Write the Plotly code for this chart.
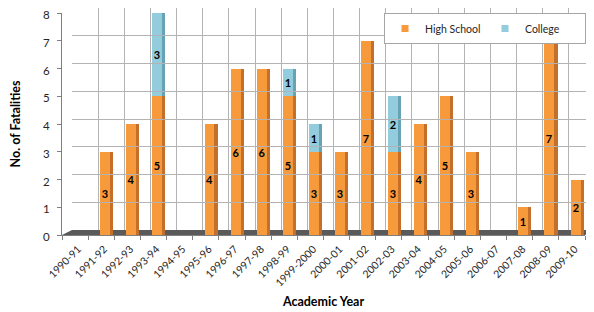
import plotly.graph_objects as go

years = ["1990-91", "1991-92", "1992-93", "1993-94", "1994-95", "1995-96", "1996-97",
         "1997-98", "1998-99", "1999-2000", "2000-01", "2001-02", "2002-03", "2003-04",
         "2004-05", "2005-06", "2006-07", "2007-08", "2008-09", "2009-10"]
high_school = [0, 3, 4, 5, 0, 4, 6, 6, 5, 3, 3, 7, 3, 4, 5, 3, 0, 1, 7, 2]
college = [0, 0, 0, 3, 0, 0, 0, 0, 1, 1, 0, 0, 2, 0, 0, 0, 0, 0, 0, 0]
y_ticks = [0, 1, 2, 3, 4, 5, 6, 7, 8]

HS_FRONT, HS_SIDE = "#F79A3C", "#C4702A"
CO_FRONT, CO_SIDE = "#93CDDD", "#66A3B5"
FONT = "Lato, 'Open Sans', sans-serif"

xs = list(range(len(years)))
hs_text = [str(v) if v else "" for v in high_school]
co_text = [str(v) if v else "" for v in college]

FACE_W, FACE_OFF = 0.38, -0.05
SIDE_W, SIDE_OFF = 0.12, 0.33

fig = go.Figure()

# back-wall grid carrier (invisible)
fig.add_trace(go.Scatter(x=[0], y=[0], xaxis="x2", yaxis="y2", mode="markers",
                         marker=dict(opacity=0), showlegend=False, hoverinfo="skip"))

# side faces (3D effect)
fig.add_trace(go.Bar(x=xs, y=high_school, width=SIDE_W, offset=SIDE_OFF,
                     marker=dict(color=HS_SIDE, line=dict(width=0)),
                     showlegend=False, hoverinfo="skip"))
fig.add_trace(go.Bar(x=xs, y=college, base=high_school, width=SIDE_W, offset=SIDE_OFF,
                     marker=dict(color=CO_SIDE, line=dict(width=0)),
                     showlegend=False, hoverinfo="skip"))

# front faces
fig.add_trace(go.Bar(x=xs, y=high_school, width=FACE_W, offset=FACE_OFF, name="High School",
                     marker=dict(color=HS_FRONT, line=dict(width=0)),
                     text=hs_text, textposition="inside", insidetextanchor="middle",
                     constraintext="none",
                     textfont=dict(family=FONT, size=11, color="#000000", weight="bold"),
                     showlegend=False))
fig.add_trace(go.Bar(x=xs, y=college, base=high_school, width=FACE_W, offset=FACE_OFF,
                     name="College",
                     marker=dict(color=CO_FRONT, line=dict(width=0)),
                     text=co_text, textposition="inside", insidetextanchor="middle",
                     constraintext="none",
                     textfont=dict(family=FONT, size=11, color="#000000", weight="bold"),
                     showlegend=False))

# legend entries
for nm, col in [("High School", HS_FRONT), ("College", CO_FRONT)]:
    fig.add_trace(go.Scatter(x=[None], y=[None], mode="markers", name=nm,
                             marker=dict(symbol="square", size=7, color=col)))

# page body has an 8px margin: figure is placed at (8, 8)
PW, PH = 532, 227
fig.update_layout(
    width=586, height=304,
    margin=dict(l=54, r=0, t=0, b=77, autoexpand=False),
    paper_bgcolor="white", plot_bgcolor="rgba(0,0,0,0)",
    barmode="overlay", bargap=0,
    font=dict(family=FONT, size=11, color="#262626"),
    xaxis=dict(domain=[0, 523 / PW], range=[-0.5, 19.5],
               tickvals=xs, ticktext=years, tickangle=-45, ticks="",
               tickfont=dict(size=10.5, color="#262626"),
               ticklabelstandoff=3, ticklabelshift=3, ticklabeloverflow="allow",
               showgrid=False, zeroline=False,
               showline=True, linecolor="#7F7F7F", linewidth=1,
               minor=dict(ticks="outside", tick0=-0.5, dtick=1, ticklen=4,
                          tickcolor="#7F7F7F", showgrid=False),
               title=dict(text="<b>Academic Year</b>", font=dict(size=12.5, color="#000000"),
                          standoff=9),
               automargin=False),
    yaxis=dict(domain=[0, 222 / PH], range=[0, 8], tickvals=y_ticks,
               ticks="outside", ticklen=4, tickcolor="#7F7F7F",
               ticklabelstandoff=5, ticklabelshift=2, ticklabeloverflow="allow",
               showgrid=False, zeroline=False,
               showline=True, linecolor="#7F7F7F", linewidth=1,
               tickfont=dict(size=11.5, color="#262626"),
               title=dict(text="<b>No. of Fatalities</b>", font=dict(size=12.5, color="#000000"),
                          standoff=19),
               automargin=False),
    xaxis2=dict(domain=[10 / PW, 1], range=[-0.5, -0.5 + 522 / 26.15], anchor="y2",
                tick0=-0.5, dtick=1, showticklabels=False, ticks="",
                showgrid=True, gridcolor="#B3B3B3", gridwidth=1, zeroline=False),
    yaxis2=dict(domain=[5 / PH, 1], range=[0, 8], anchor="x2", dtick=1,
                showticklabels=False, ticks="",
                showgrid=True, gridcolor="#B3B3B3", gridwidth=1, zeroline=False),
    legend=dict(orientation="h", x=(384 - 62) / PW, y=(235 - 13) / PH,
                xanchor="left", yanchor="top",
                bgcolor="white", bordercolor="#A6A6A6", borderwidth=1,
                font=dict(size=10.5, color="#262626"),
                itemwidth=30, tracegroupgap=0, entrywidth=55),
    shapes=[dict(type="path", xref="paper", yref="paper", layer="below",
                 path=f"M 0,0 L {523/PW},0 L 1,{5/PH} L {10/PW},{5/PH} Z",
                 fillcolor="#5A5A5A", line=dict(width=0))],
)

fig.write_html("out.html")
